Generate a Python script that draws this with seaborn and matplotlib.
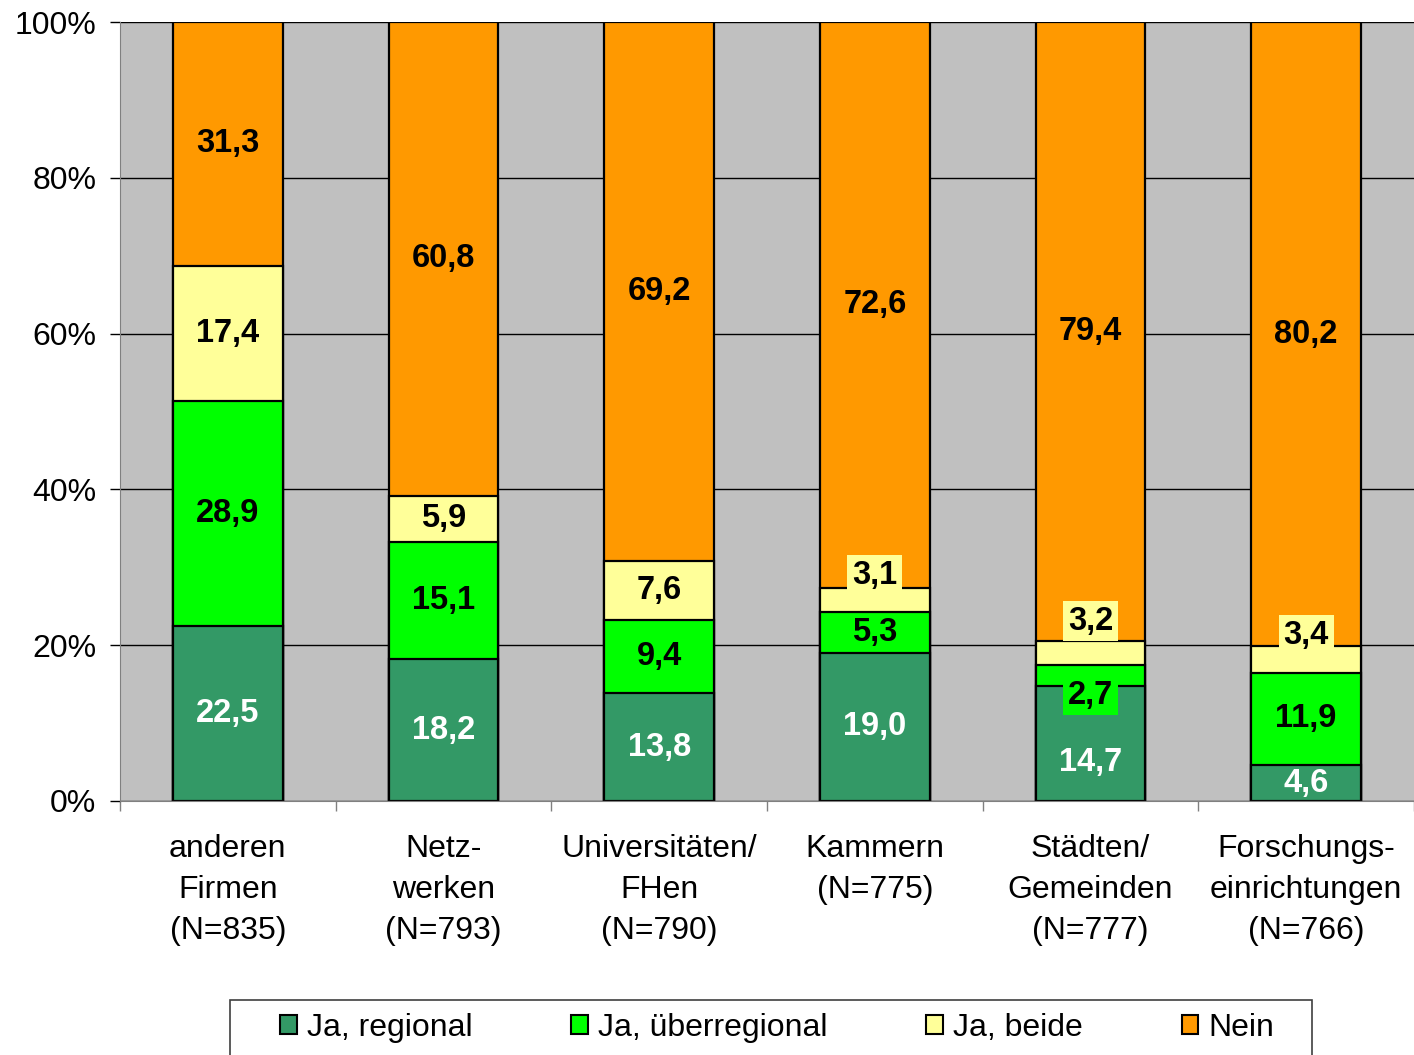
import numpy as np
import matplotlib
matplotlib.use("Agg")
import matplotlib.pyplot as plt
from matplotlib.patches import Patch, Rectangle
import seaborn as sns

plt.rcParams["font.family"] = ["Liberation Sans", "DejaVu Sans"]

categories = [
    "anderen\nFirmen\n(N=835)",
    "Netz-\nwerken\n(N=793)",
    "Universitäten/\nFHen\n(N=790)",
    "Kammern\n(N=775)",
    "Städten/\nGemeinden\n(N=777)",
    "Forschungs-\neinrichtungen\n(N=766)",
]
regional = [22.5, 18.2, 13.8, 19.0, 14.7, 4.6]
ueberregional = [28.9, 15.1, 9.4, 5.3, 2.7, 11.9]
beide = [17.4, 5.9, 7.6, 3.1, 3.2, 3.4]
nein = [31.3, 60.8, 69.2, 72.6, 79.4, 80.2]

series_names = ["Ja, regional", "Ja, überregional", "Ja, beide", "Nein"]
colors = ["#339966", "#00FF00", "#FFFF99", "#FF9900"]
text_colors = ["white", "black", "black", "black"]

# labels that Excel moved out of their segment: (layer, bar) -> y in %
label_y_override = {(2, 3): 29.0, (2, 4): 23.1, (2, 5): 21.2, (1, 4): 13.6, (0, 4): 4.9}

layers = np.array([regional, ueberregional, beide, nein])
totals = layers.sum(axis=0)
pct = layers / totals * 100
cum = np.cumsum(pct, axis=0)

fig = plt.figure(figsize=(14.14, 10.55), dpi=100)
ax = fig.add_axes([120 / 1414, 1 - 801 / 1055, 1 - 120 / 1414, (801 - 22) / 1055])
ax.set_facecolor("#C0C0C0")
ax.set_axisbelow(True)
ax.yaxis.grid(True, color="black", linewidth=1)

# stacked bars: tallest cumulative layer first, shorter ones drawn on top
for i in range(3, -1, -1):
    sns.barplot(x=list(range(len(categories))), y=cum[i], color=colors[i],
                width=0.51, edgecolor="black", linewidth=1.6, saturation=1,
                ax=ax, native_scale=True)

for i in range(4):
    for j in range(len(categories)):
        lower = cum[i - 1][j] if i > 0 else 0
        y = label_y_override.get((i, j), (lower + cum[i][j]) / 2)
        kw = {}
        if (i, j) in label_y_override and i > 0:
            kw["bbox"] = dict(boxstyle="square,pad=0.15", fc=colors[i], ec="none")
        ax.text(j, y, f"{layers[i][j]:.1f}".replace(".", ","), ha="center", va="center",
                fontsize=23.5, fontweight="bold", color=text_colors[i], **kw)

ax.set_xlim(-0.5, 5.5)
ax.set_ylim(0, 100)
ax.set_yticks(range(0, 101, 20))
ax.set_yticklabels([f"{v}%" for v in range(0, 101, 20)], fontsize=23)
ax.tick_params(axis="y", length=7, width=1, color="black", pad=10)
ax.set_xticks(range(len(categories)))
ax.set_xticklabels(categories, fontsize=23, linespacing=1.48)
ax.set_xticks(np.arange(-0.5, 5.6, 1), minor=True)
ax.tick_params(axis="x", which="major", length=0, pad=24)
ax.tick_params(axis="x", which="minor", length=7, width=1, color="#808080")
ax.set_xlabel("")
ax.set_ylabel("")
for side in ["top", "right"]:
    ax.spines[side].set_visible(False)
ax.spines["left"].set_color("#808080")
ax.spines["bottom"].set_color("#808080")

# legend frame, cut off by the bottom of the figure as in the original
fig.patches.append(Rectangle((230 / 1414, -0.02), (1312 - 230) / 1414, 0.02 + 1 - 1000 / 1055,
                             transform=fig.transFigure, facecolor="white",
                             edgecolor="#404040", linewidth=1.2))
handles = [Patch(facecolor=c, edgecolor="black", linewidth=1.5) for c in colors]
fig.legend(handles, series_names, loc="center left", ncol=4,
           bbox_to_anchor=(280 / 1414, 1 - 1028 / 1055),
           bbox_transform=fig.transFigure, fontsize=23, frameon=False,
           handlelength=0.53, handleheight=0.53, handletextpad=0.3,
           columnspacing=3.1, borderpad=0, borderaxespad=0)

fig.savefig("out.png", dpi=100)
